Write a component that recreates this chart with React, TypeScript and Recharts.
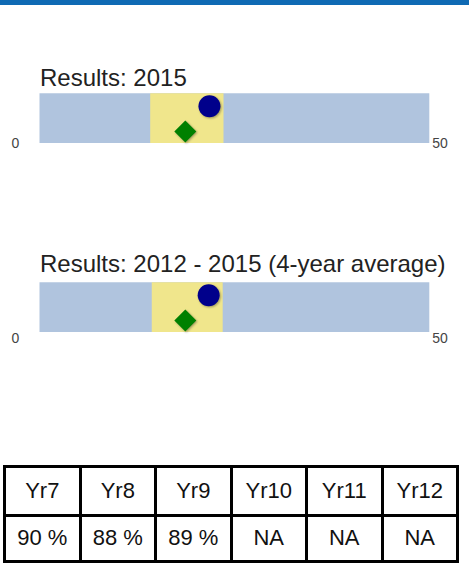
import { ComposedChart, XAxis, YAxis, ReferenceArea, Scatter } from "recharts";

// bullet charts: two result periods on a 0-50 scale
const titles = ["Results: 2015", "Results: 2012 - 2015 (4-year average)"];
const bandLow = [14.2, 14.4];
const bandHigh = [23.6, 23.5];
const circleValues = [21.8, 21.7];
const diamondValues = [18.7, 18.7];
const axisTicks = [0, 50];
const tickDrop = [4.5, 11];
const titleTop = [65.7, 63];

// table below the charts
const years = ["Yr7", "Yr8", "Yr9", "Yr10", "Yr11", "Yr12"];
const rates = ["90 %", "88 %", "89 %", "NA", "NA", "NA"];

const FONT = '"Liberation Sans", Arial, sans-serif';
const shadow = "drop-shadow(1px 1px 1px rgba(0,0,0,0.35))";

const CircleMark = (p: any) => (
  <circle cx={p.cx} cy={p.cy} r={11} fill="#00008b" style={{ filter: shadow }} />
);

const DiamondMark = (p: any) => {
  const h = 11;
  const pts = `${p.cx},${p.cy - h} ${p.cx + h},${p.cy} ${p.cx},${p.cy + h} ${p.cx - h},${p.cy}`;
  return <polygon points={pts} fill="#008000" style={{ filter: shadow }} />;
};

function EndTick({ x, y, payload, drop }: any) {
  const isStart = payload.value === 0;
  return (
    <text
      x={isStart ? x - 24 : x + 3}
      y={y + drop}
      textAnchor={isStart ? "middle" : "start"}
      fill="#444"
      fontSize={14}
      fontFamily={FONT}
    >
      {payload.value}
    </text>
  );
}

function Bullet({ idx, top }: { idx: number; top: number }) {
  return (
    <div style={{ position: "absolute", left: 0, top, width: 469, height: 160 }}>
      <div
        style={{
          position: "absolute",
          left: 40,
          top: titleTop[idx],
          fontSize: 24,
          lineHeight: "24px",
          fontFamily: FONT,
          color: "#222",
          whiteSpace: "nowrap",
        }}
      >
        {titles[idx]}
      </div>
      <ComposedChart
        width={469}
        height={160}
        margin={{ top: 93.3, right: 39.7, left: 39.5, bottom: 0 }}
        style={{ position: "absolute", left: 0, top: 0 }}
      >
        <XAxis
          type="number"
          dataKey="x"
          domain={[0, 50]}
          ticks={axisTicks}
          interval={0}
          height={17}
          axisLine={false}
          tickLine={false}
          tickSize={0}
          tickMargin={0}
          tick={<EndTick drop={tickDrop[idx]} />}
        />
        <YAxis type="number" dataKey="y" domain={[0, 1]} hide />
        <ReferenceArea x1={0} x2={50} y1={0} y2={1} fill="#b0c4de" fillOpacity={1} stroke="none" />
        <ReferenceArea
          x1={bandLow[idx]}
          x2={bandHigh[idx]}
          y1={0}
          y2={1}
          fill="#f0e68c"
          fillOpacity={1}
          stroke="none"
        />
        <Scatter
          data={[{ x: circleValues[idx], y: 0.74 }]}
          shape={CircleMark}
          isAnimationActive={false}
        />
        <Scatter
          data={[{ x: diamondValues[idx], y: 0.23 }]}
          shape={DiamondMark}
          isAnimationActive={false}
        />
      </ComposedChart>
    </div>
  );
}

export default function App() {
  const cell = {
    border: "3px solid #000",
    textAlign: "center" as const,
    verticalAlign: "middle" as const,
    fontSize: 22,
    fontFamily: FONT,
    color: "#111",
    padding: 0,
  };
  return (
    <div
      style={{
        position: "absolute",
        left: 0,
        top: 0,
        width: 469,
        height: 586,
        background: "#fff",
        overflow: "hidden",
      }}
    >
      <div style={{ position: "absolute", left: 0, top: 0, width: 469, height: 5, background: "#0f6ab4" }} />
      <Bullet idx={0} top={0} />
      <Bullet idx={1} top={189} />
      <table
        style={{
          position: "absolute",
          left: 3,
          top: 464.5,
          width: 456,
          borderCollapse: "collapse",
          tableLayout: "fixed",
        }}
      >
        <tbody>
          <tr style={{ height: 49 }}>
            {years.map((y) => (
              <td key={y} style={cell}>
                {y}
              </td>
            ))}
          </tr>
          <tr style={{ height: 46 }}>
            {rates.map((r, i) => (
              <td key={i} style={cell}>
                {r}
              </td>
            ))}
          </tr>
        </tbody>
      </table>
    </div>
  );
}
